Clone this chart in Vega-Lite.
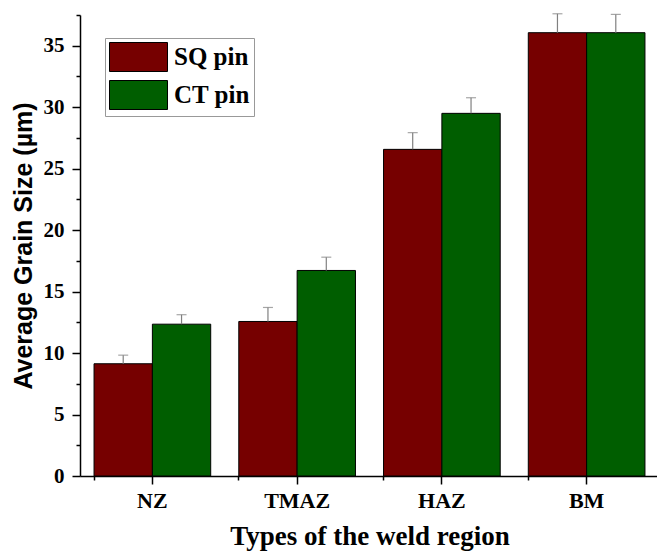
{
  "$schema": "https://vega.github.io/schema/vega-lite/v6.json",
  "width": 579,
  "height": 461,
  "autosize": {"type": "none"},
  "padding": {"left": 80, "top": 15, "right": 0, "bottom": 80},
  "background": "white",
  "config": {"view": {"stroke": null}},
  "data": {"values": [
    {"region": "NZ", "pin": "SQ pin", "size": 9.13, "upper": 9.83},
    {"region": "NZ", "pin": "CT pin", "size": 12.35, "upper": 13.12},
    {"region": "TMAZ", "pin": "SQ pin", "size": 12.57, "upper": 13.71},
    {"region": "TMAZ", "pin": "CT pin", "size": 16.72, "upper": 17.8},
    {"region": "HAZ", "pin": "SQ pin", "size": 26.57, "upper": 27.93},
    {"region": "HAZ", "pin": "CT pin", "size": 29.5, "upper": 30.77},
    {"region": "BM", "pin": "SQ pin", "size": 36.06, "upper": 37.6},
    {"region": "BM", "pin": "CT pin", "size": 36.06, "upper": 37.55}
  ]},
  "layer": [
    {
      "mark": {"type": "bar", "stroke": "black", "strokeWidth": 1},
      "encoding": {
        "x": {"field": "region", "type": "nominal", "sort": ["NZ", "TMAZ", "HAZ", "BM"],
          "scale": {"paddingInner": 0.194, "paddingOuter": 0.097},
          "axis": {"orient": "bottom", "title": "Types of the weld region", "labelAngle": 0, "labelFont": "Liberation Serif", "labelFontWeight": "bold", "labelFontSize": 22, "labelColor": "black", "labelPadding": 6,
            "tickSize": 8, "tickColor": "black", "tickWidth": 1.5, "domainColor": "black", "domainWidth": 1.5,
            "titleFont": "Liberation Serif", "titleFontWeight": "bold", "titleFontSize": 27, "titleColor": "black", "titlePadding": 12}},
        "xOffset": {"field": "pin", "type": "nominal", "sort": ["SQ pin", "CT pin"], "scale": {"paddingInner": 0, "paddingOuter": 0}},
        "y": {"field": "size", "type": "quantitative", "scale": {"domain": [0, 37.5], "nice": false},
          "axis": {"title": "Average Grain Size (µm)", "orient": "left", "values": [0, 5, 10, 15, 20, 25, 30, 35], "grid": false,
            "labelFont": "Liberation Serif", "labelFontWeight": "bold", "labelFontSize": 21, "labelColor": "black", "labelPadding": 8,
            "tickSize": 8, "tickColor": "black", "tickWidth": 1.5, "domainColor": "black", "domainWidth": 1.5,
            "titleFont": "Liberation Sans", "titleFontWeight": "bold", "titleFontSize": 25, "titleColor": "black", "titlePadding": 7}},
        "color": {"field": "pin", "type": "nominal", "scale": {"domain": ["SQ pin", "CT pin"], "range": ["#760000", "#005e00"]},
          "legend": {"title": null, "orient": "none", "legendX": 25, "legendY": 23, "strokeColor": "#999999", "fillColor": "white", "padding": 4,
            "symbolType": "M-1,-1H3V1H-1Z", "symbolSize": 841, "symbolStrokeColor": "black", "symbolStrokeWidth": 1, "symbolOpacity": 1,
            "labelFont": "Liberation Serif", "labelFontWeight": "bold", "labelFontSize": 25, "labelColor": "black", "labelOffset": 35, "rowPadding": 4}}
      }
    },
    {
      "mark": {"type": "rule", "color": "#808080", "strokeWidth": 1.2},
      "encoding": {
        "x": {"field": "region", "type": "nominal", "sort": ["NZ", "TMAZ", "HAZ", "BM"], "axis": null},
        "xOffset": {"field": "pin", "type": "nominal", "sort": ["SQ pin", "CT pin"]},
        "y": {"field": "size", "type": "quantitative", "axis": null}, "y2": {"field": "upper"}}
    },
    {
      "mark": {"type": "tick", "color": "#808080", "size": 10, "thickness": 1.2},
      "encoding": {
        "x": {"field": "region", "type": "nominal", "sort": ["NZ", "TMAZ", "HAZ", "BM"], "axis": null},
        "xOffset": {"field": "pin", "type": "nominal", "sort": ["SQ pin", "CT pin"]},
        "y": {"field": "upper", "type": "quantitative",
        "axis": {"orient": "left", "values": [2.5, 7.5, 12.5, 17.5, 22.5, 27.5, 32.5, 37.5], "labels": false, "domain": false, "grid": false, "title": null, "tickSize": 4, "tickColor": "black", "tickWidth": 1.5}}}
    },
    {
      "mark": {"type": "tick", "opacity": 0, "size": 1},
      "encoding": {
        "x": {"field": "region", "type": "nominal", "sort": ["NZ", "TMAZ", "HAZ", "BM"],
          "axis": {"orient": "bottom", "bandPosition": 0, "labels": false, "domain": false, "title": null, "tickSize": 4, "tickColor": "black", "tickWidth": 1.5}},
        "y": {"field": "size", "type": "quantitative", "axis": null}
      }
    }
  ],
  "resolve": {"axis": {"x": "independent", "y": "independent"}}
}
